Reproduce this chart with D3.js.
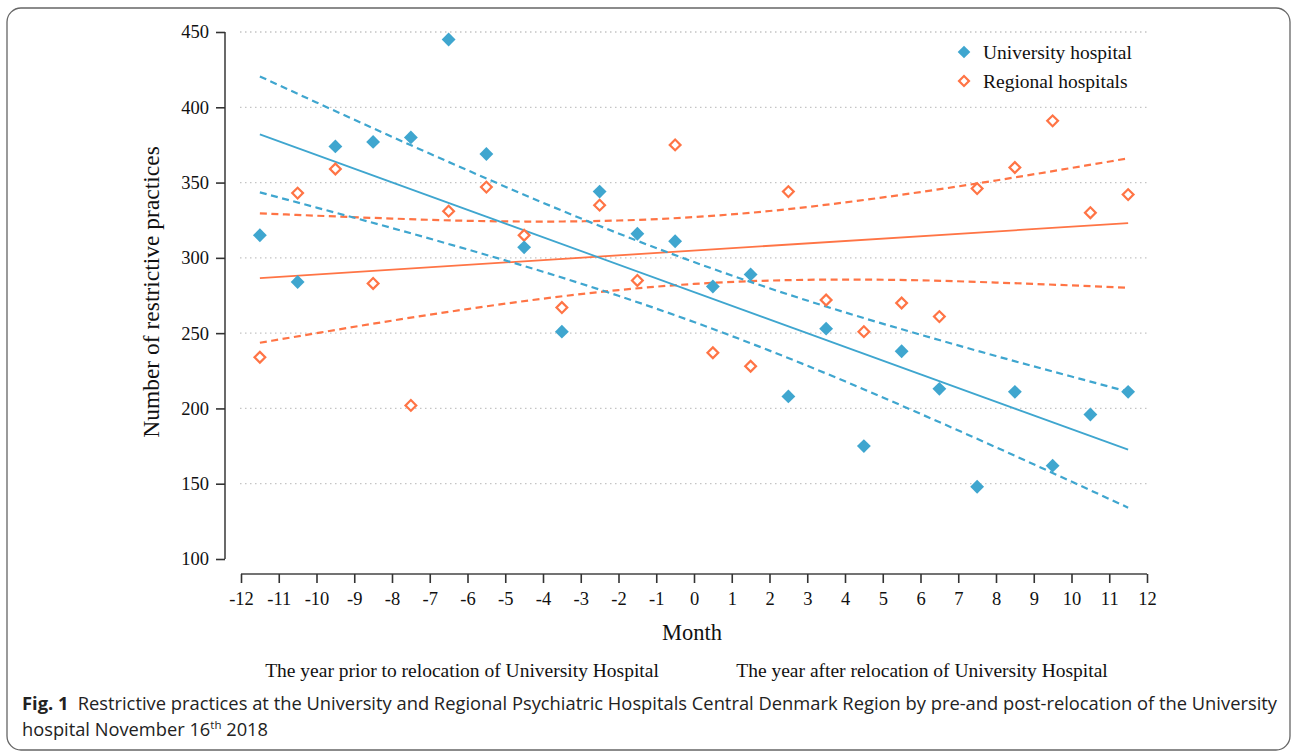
<!DOCTYPE html>
<html><head><meta charset="utf-8">
<script src="https://cdn.jsdelivr.net/npm/d3@7"></script>
<style>body{margin:0;background:#fff;} svg{display:block;}</style>
</head><body>
<svg id="c" width="1292" height="753"></svg>
<script>
const months = [-11.5,-10.5,-9.5,-8.5,-7.5,-6.5,-5.5,-4.5,-3.5,-2.5,-1.5,-0.5,0.5,1.5,2.5,3.5,4.5,5.5,6.5,7.5,8.5,9.5,10.5,11.5];
const university = [315,284,374,377,380,445,369,307,251,344,316,311,281,289,208,253,175,238,213,148,211,162,196,211];
const regional = [234,343,359,283,202,331,347,315,267,335,285,375,237,228,344,272,251,270,261,346,360,391,330,342];
const fitX = [-11.5, 11.5];
const uniFit = [382.0, 172.6];
const regFit = [286.6, 323.1];
const ciX = [-11.5,-10,-8,-6,-4,-2,0,2,4,6,8,10,11.5];
const uniUpper = [420.5,403.2,380.4,358.2,336.6,316.2,297.2,279.8,263.8,249.0,234.8,221.2,211.1];
const uniLower = [343.5,333.4,319.8,305.6,290.8,274.8,257.4,238.4,218.0,196.4,174.2,151.4,134.1];
const regUpper = [329.6,328.0,326.1,324.6,324.1,324.8,327.1,331.1,336.8,343.7,351.4,359.7,366.1];
const regLower = [243.6,250.0,258.3,266.0,272.9,278.6,282.7,284.9,285.6,285.1,283.6,281.7,280.1];
const xTicks = d3.range(-12, 13, 1);
const yTicks = [100,150,200,250,300,350,400,450];
const gridTicks = [150,200,250,300,350,400,450];

const BLUE = "#3fa6cf", ORANGE = "#ff7445";
const svg = d3.select("#c");
const x = d3.scaleLinear().domain([-12,12]).range([241,1147]);
const y = d3.scaleLinear().domain([100,450]).range([559,32]);
const serif = "'Liberation Serif','DejaVu Serif',serif";

// frame
svg.append("rect").attr("x",7).attr("y",8).attr("width",1283).attr("height",742)
  .attr("rx",14).attr("fill","none").attr("stroke","#666").attr("stroke-width",1.3);

// grid
svg.append("g").selectAll("line").data(gridTicks).join("line")
  .attr("x1",240).attr("x2",1148).attr("y1",d=>y(d)).attr("y2",d=>y(d))
  .attr("stroke","#c4c4c4").attr("stroke-width",1.3).attr("stroke-dasharray","1.5,3.5");

// axes
const yAxis = svg.append("g").attr("transform","translate(225,0)")
  .call(d3.axisLeft(y).tickValues(yTicks).tickFormat(d=>String(d)).tickSize(9).tickPadding(7).tickSizeOuter(0));
const xAxis = svg.append("g").attr("transform","translate(0,574)")
  .call(d3.axisBottom(x).tickValues(xTicks).tickFormat(d=>String(d)).tickSize(9).tickPadding(9).tickSizeOuter(0));
[yAxis,xAxis].forEach(a=>{
  a.select(".domain").attr("stroke","#444").attr("stroke-width",1.6);
  a.selectAll(".tick line").attr("stroke","#333").attr("stroke-width",1.6);
  a.selectAll(".tick text").attr("font-family",serif).attr("font-size",18.5).attr("fill","#111");
});
xAxis.select(".domain").attr("d","M241,0H1147");
yAxis.select(".domain").attr("d","M0,32V559");

// lines
const line = d3.line().x(d=>x(d[0])).y(d=>y(d[1])).curve(d3.curveMonotoneX);
function drawLine(xs, ys, color, dashed){
  svg.append("path").attr("d", line(xs.map((v,i)=>[v,ys[i]])))
    .attr("fill","none").attr("stroke",color).attr("stroke-width",dashed?2.2:1.8)
    .attr("stroke-dasharray",dashed?"7,4.5":null);
}
drawLine(ciX, regUpper, ORANGE, true);
drawLine(ciX, regLower, ORANGE, true);
drawLine(fitX, regFit, ORANGE, false);
drawLine(ciX, uniUpper, BLUE, true);
drawLine(ciX, uniLower, BLUE, true);
drawLine(fitX, uniFit, BLUE, false);

// points
const sq = d3.symbol().type(d3.symbolSquare);
svg.append("g").selectAll("path").data(regional).join("path")
  .attr("d", sq.size(58)())
  .attr("transform",(d,i)=>`translate(${x(months[i])},${y(d)}) rotate(45)`)
  .attr("fill","#fff").attr("stroke",ORANGE).attr("stroke-width",2.2);
svg.append("g").selectAll("path").data(university).join("path")
  .attr("d", sq.size(96)())
  .attr("transform",(d,i)=>`translate(${x(months[i])},${y(d)}) rotate(45)`)
  .attr("fill",BLUE);

// legend
svg.append("path").attr("d", sq.size(80)()).attr("transform","translate(964,52) rotate(45)").attr("fill",BLUE);
svg.append("path").attr("d", sq.size(50)()).attr("transform","translate(964,81) rotate(45)")
  .attr("fill","#fff").attr("stroke",ORANGE).attr("stroke-width",2.2);
svg.append("text").attr("x",983).attr("y",59).attr("font-family",serif).attr("font-size",19.5).attr("fill","#111").text("University hospital");
svg.append("text").attr("x",983).attr("y",88).attr("font-family",serif).attr("font-size",19.5).attr("fill","#111").text("Regional hospitals");

// axis titles
svg.append("text").attr("transform","translate(159,292) rotate(-90)").attr("text-anchor","middle")
  .attr("font-family",serif).attr("font-size",23.5).attr("fill","#111").text("Number of restrictive practices");
svg.append("text").attr("x",692).attr("y",640).attr("text-anchor","middle")
  .attr("font-family",serif).attr("font-size",22.5).attr("fill","#111").text("Month");
svg.append("text").attr("x",462).attr("y",677).attr("text-anchor","middle")
  .attr("font-family",serif).attr("font-size",19.5).attr("fill","#111").text("The year prior to relocation of University Hospital");
svg.append("text").attr("x",922).attr("y",677).attr("text-anchor","middle")
  .attr("font-family",serif).attr("font-size",19.5).attr("fill","#111").text("The year after relocation of University Hospital");

// caption
const sans = "'Open Sans','Noto Sans',sans-serif";
const cap1 = svg.append("text").attr("x",22).attr("y",710).attr("font-family",sans).attr("font-size",17.5).attr("fill","#222")
  .attr("textLength",1255).attr("lengthAdjust","spacingAndGlyphs");
cap1.append("tspan").attr("font-weight","bold").text("Fig. 1");
cap1.append("tspan").text("\u2002Restrictive practices at the University and Regional Psychiatric Hospitals Central Denmark Region by pre-and post-relocation of the University");
const cap2 = svg.append("text").attr("x",22).attr("y",736).attr("font-family",sans).attr("font-size",17.5).attr("fill","#222")
  .attr("textLength",246).attr("lengthAdjust","spacingAndGlyphs");
cap2.append("tspan").text("hospital November 16");
cap2.append("tspan").attr("font-size",11).attr("baseline-shift","super").text("th");
cap2.append("tspan").text(" 2018");
</script>
</body></html>
